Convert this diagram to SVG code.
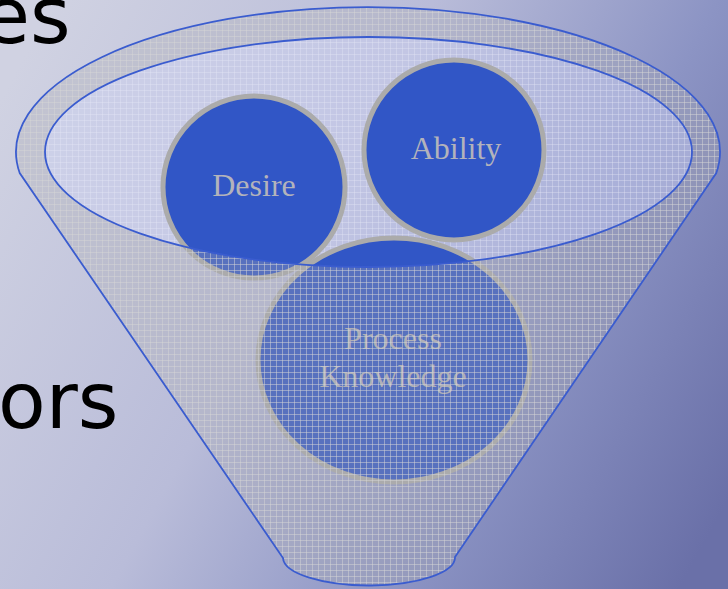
<svg xmlns="http://www.w3.org/2000/svg" width="728" height="589" viewBox="0 0 728 589">
  <defs>
    <linearGradient id="bg" gradientUnits="userSpaceOnUse" x1="0" y1="100" x2="728" y2="500">
      <stop offset="0" stop-color="#d0d2e2"/>
      <stop offset="0.4" stop-color="#b9bcd9"/>
      <stop offset="0.7" stop-color="#8c94c4"/>
      <stop offset="1" stop-color="#6a70a8"/>
    </linearGradient>
    <pattern id="grid" width="6" height="6" patternUnits="userSpaceOnUse">
      <rect width="6" height="6" fill="#acacb0" fill-opacity="0.32"/>
      <path d="M0 0.5H6M0.5 0V6" stroke="#d6d6d6" stroke-opacity="0.5" stroke-width="1"/>
    </pattern>
    <pattern id="gridlight" width="6" height="6" patternUnits="userSpaceOnUse">
      <rect width="6" height="6" fill="#cfd3f2" fill-opacity="0.45"/>
      <path d="M0 0.5H6M0.5 0V6" stroke="#e4e6f6" stroke-opacity="0.35" stroke-width="1"/>
    </pattern>
    <style>
      .bigtxt { font-family: "DejaVu Sans", Verdana, sans-serif; font-size: 78px; fill: #000; }
      .circ { fill: #3156c6; stroke: #ababab; stroke-width: 5; }
      .lbl { font-family: "Liberation Serif", "Times New Roman", serif; font-size: 32px; fill: #b3b3bb; text-anchor: middle; }
      .edge { fill: none; stroke: #3a5ccf; stroke-width: 1.8; }
    </style>
  </defs>

  <rect width="728" height="589" fill="url(#bg)"/>

  <g id="texts">
    <text class="bigtxt" x="-18" y="43">es</text>
    <text class="bigtxt" x="-2" y="428">ors</text>
  </g>

  <g id="funnel-opening">
    <ellipse cx="368.5" cy="152" rx="323.5" ry="115" fill="url(#gridlight)"/>
  </g>

  <g id="desire">
    <circle class="circ" cx="254" cy="187" r="91"/>
    <text class="lbl" x="254" y="196">Desire</text>
  </g>
  <g id="ability">
    <circle class="circ" cx="454" cy="150" r="90"/>
    <text class="lbl" x="456" y="159">Ability</text>
  </g>
  <g id="process-knowledge">
    <ellipse class="circ" cx="394" cy="360" rx="136" ry="122"/>
    <text class="lbl" x="393" y="349">Process</text>
    <text class="lbl" x="393" y="387">Knowledge</text>
  </g>

  <g id="funnel">
    <path fill="url(#grid)" fill-rule="evenodd" d="M19.7,173 A352,145 0 1 1 716.3,173 L455,557 A86,28 0 0 1 283,558 Z M45,152 A323.5,115 0 1 0 692,152 A323.5,115 0 1 0 45,152 Z"/>
  </g>

  <g id="connectors">
    <path class="edge" d="M19.7,173 A352,145 0 1 1 716.3,173 L455,557 A86,28 0 0 1 283,558 Z"/>
    <ellipse class="edge" cx="368.5" cy="152" rx="323.5" ry="115"/>
  </g>
</svg>
